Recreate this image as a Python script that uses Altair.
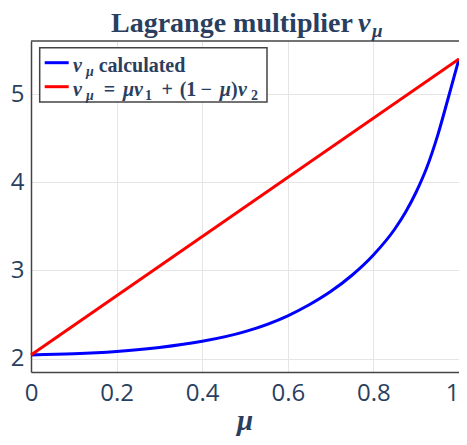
import altair as alt
import pandas as pd

# ---- data ----
mu_calc = [0.0, 0.1, 0.2, 0.3, 0.4, 0.5, 0.6, 0.65, 0.7, 0.75, 0.8, 0.85, 0.875, 0.9, 0.925, 0.95, 0.975, 1.0]
nu_calc = [2.04, 2.053, 2.08, 2.125, 2.195, 2.305, 2.485, 2.61, 2.76, 2.945, 3.175, 3.47, 3.66, 3.89, 4.17, 4.53, 4.96, 5.40]
mu_lin = [0.0, 1.0]
nu_lin = [2.04, 5.40]
series_names = ["calculated", "linear"]
series_colors = ["#0000ff", "#ff0000"]
x_ticks = [0, 0.2, 0.4, 0.6, 0.8, 1.0]
y_ticks = [2, 3, 4, 5]

rows = [{"mu": m, "nu": v, "series": series_names[0]} for m, v in zip(mu_calc, nu_calc)]
rows += [{"mu": m, "nu": v, "series": series_names[1]} for m, v in zip(mu_lin, nu_lin)]
df = pd.DataFrame(rows)

W, H = 428, 331
TXT = "#2a3f5f"

lines = alt.Chart(df).mark_line(strokeWidth=3, clip=False, interpolate="monotone").encode(
    x=alt.X("mu:Q", scale=alt.Scale(domain=[0, 1], nice=False, zero=False),
            axis=alt.Axis(values=x_ticks, format="~g", title=None, labelPadding=9,
                          labelAlign={"condition": {"test": "datum.value >= 1", "value": "right"},
                                      "value": "center"})),
    y=alt.Y("nu:Q", scale=alt.Scale(domain=[1.847, 5.604], nice=False, zero=False),
            axis=alt.Axis(values=y_ticks, title=None, labelPadding=7)),
    color=alt.Color("series:N", scale=alt.Scale(domain=series_names, range=series_colors), legend=None),
    order=alt.Order("mu:Q"),
)

one = pd.DataFrame({"k": [0]})


def txt(s, x, y, size, style="normal", weight="bold", font="Liberation Serif", align="left"):
    return alt.Chart(one).mark_text(
        text=s, font=font, fontSize=size, fontStyle=style, fontWeight=weight,
        align=align, baseline="alphabetic", color=TXT,
    ).encode(x=alt.value(x), y=alt.value(y))


top_line = alt.Chart(one).mark_rule(color="#444", strokeWidth=1.5).encode(
    x=alt.value(0), x2=alt.value(W), y=alt.value(0))

legend_box = alt.Chart(one).mark_rect(fill="white", stroke="#444", strokeWidth=1.5).encode(
    x=alt.value(8.7), x2=alt.value(236), y=alt.value(6.7), y2=alt.value(61))
sym1 = alt.Chart(one).mark_rule(color=series_colors[0], strokeWidth=3).encode(
    x=alt.value(13.7), x2=alt.value(37.7), y=alt.value(21.7))
sym2 = alt.Chart(one).mark_rule(color=series_colors[1], strokeWidth=3).encode(
    x=alt.value(13.7), x2=alt.value(37.7), y=alt.value(45.7))

B1, B2 = 31, 55
legend_text = [
    txt("ν", 42, B1, 20, "italic"),
    txt("μ", 55, B1 + 4, 14, "italic"),
    txt("calculated", 67.7, B1, 20),
    txt("ν", 42, B2, 20, "italic"),
    txt("μ", 55, B2 + 4, 14, "italic"),
    txt("=", 78.5, B2, 20, align="center"),
    txt("μν", 92, B2, 20, "italic"),
    txt("1", 114, B2 + 4, 14),
    txt("+", 136.2, B2, 20, align="center"),
    txt("(1", 148.7, B2, 20),
    txt("−", 175.3, B2, 20, align="center"),
    txt("μ", 188.7, B2, 20, "italic"),
    txt(")", 200, B2, 20),
    txt("ν", 207, B2, 20, "italic"),
    txt("2", 220, B2 + 4, 14),
]

title_parts = [
    txt("Lagrange multiplier", 80, -9, 28),
    txt("ν", 327, -9, 28, "italic"),
    txt("μ", 341, -4, 19, "italic"),
]

x_title = txt("μ", 214, 389, 29, "italic", align="center")

chart = alt.layer(
    lines, top_line, legend_box, sym1, sym2, *legend_text, *title_parts, x_title
).properties(
    width=W, height=H,
    autosize=alt.AutoSizeParams(type="none"),
    padding={"left": 23, "top": 33, "right": 0, "bottom": 64},
).configure_view(stroke=None).configure_axis(
    labelFont="Open Sans", labelFontSize=24, labelColor=TXT,
    gridColor="#e5e5e5", gridWidth=1, domainColor="#444", domainWidth=1.5,
    ticks=False,
)

chart.save("out.html", embed_options={"renderer": "svg", "actions": False})
